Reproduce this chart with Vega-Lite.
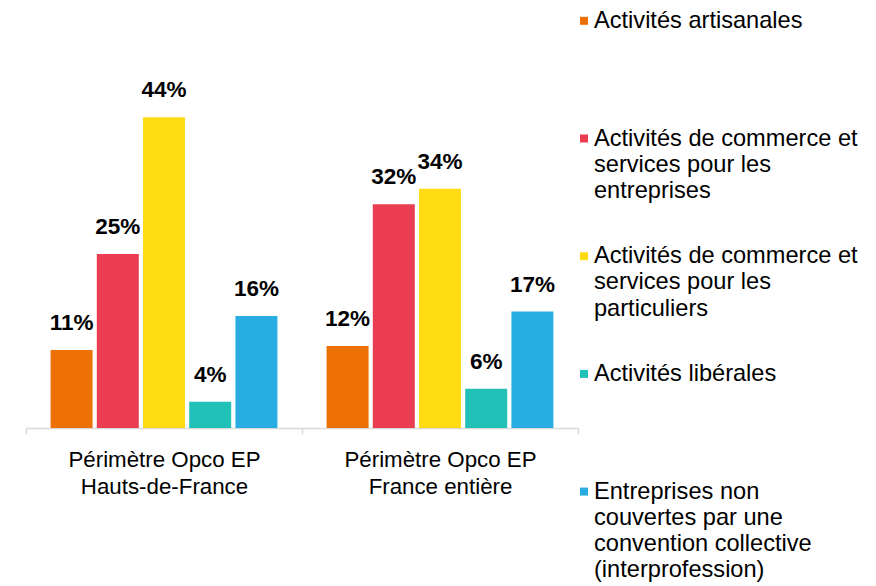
{
  "$schema": "https://vega.github.io/schema/vega-lite/v6.json",
  "width": 552,
  "height": 421,
  "autosize": {"type": "none"},
  "padding": {"left": 26, "top": 7, "right": 298, "bottom": 158},
  "background": "white",
  "config": {
    "view": {"stroke": null},
    "font": "Liberation Sans",
    "style": {"guide-label": {"lineHeight": 26.2}}
  },
  "data": {
    "values": [
      {"groupe": "Périmètre Opco EP\nHauts-de-France", "secteur": "Activités artisanales", "part": 0.111},
      {"groupe": "Périmètre Opco EP\nHauts-de-France", "secteur": "Activités de commerce et\nservices pour les\nentreprises", "part": 0.248},
      {"groupe": "Périmètre Opco EP\nHauts-de-France", "secteur": "Activités de commerce et\nservices pour les\nparticuliers", "part": 0.443},
      {"groupe": "Périmètre Opco EP\nHauts-de-France", "secteur": "Activités libérales", "part": 0.0375},
      {"groupe": "Périmètre Opco EP\nHauts-de-France", "secteur": "Entreprises non\ncouvertes par une\nconvention collective\n(interprofession)", "part": 0.1595},
      {"groupe": "Périmètre Opco EP\nFrance entière", "secteur": "Activités artisanales", "part": 0.117},
      {"groupe": "Périmètre Opco EP\nFrance entière", "secteur": "Activités de commerce et\nservices pour les\nentreprises", "part": 0.319},
      {"groupe": "Périmètre Opco EP\nFrance entière", "secteur": "Activités de commerce et\nservices pour les\nparticuliers", "part": 0.341},
      {"groupe": "Périmètre Opco EP\nFrance entière", "secteur": "Activités libérales", "part": 0.056},
      {"groupe": "Périmètre Opco EP\nFrance entière", "secteur": "Entreprises non\ncouvertes par une\nconvention collective\n(interprofession)", "part": 0.166}
    ]
  },
  "encoding": {
    "x": {
      "field": "groupe",
      "type": "nominal",
      "sort": null,
      "scale": {"paddingInner": 0, "paddingOuter": 0},
      "axis": {
        "title": null,
        "labelAngle": 0,
        "labelExpr": "split(datum.label, '\\n')",
        "labelFontSize": 22.3,
        "labelLineHeight": 27.7,
        "labelColor": "#000000",
        "labelPadding": 14,
        "labelLimit": 400,
        "labelBaseline": "top",
        "tickBand": "extent",
        "tickSize": 6,
        "tickColor": "#d9d9d9",
        "domainColor": "#d9d9d9",
        "domainWidth": 1.5,
        "tickWidth": 1.5
      }
    },
    "xOffset": {
      "field": "secteur",
      "type": "nominal",
      "sort": null,
      "scale": {"paddingInner": 0.091, "paddingOuter": 0.532}
    },
    "y": {
      "field": "part",
      "type": "quantitative",
      "scale": {"domain": [0, 0.6]},
      "axis": null
    }
  },
  "layer": [
    {
      "mark": {"type": "bar"},
      "encoding": {
        "color": {
          "field": "secteur",
          "type": "nominal",
          "sort": null,
          "scale": {
            "domain": [
              "Activités artisanales",
              "Activités de commerce et\nservices pour les\nentreprises",
              "Activités de commerce et\nservices pour les\nparticuliers",
              "Activités libérales",
              "Entreprises non\ncouvertes par une\nconvention collective\n(interprofession)"
            ],
            "range": ["#ED7005", "#EB3D52", "#FFDB14", "#22C1B8", "#27ADE1"]
          },
          "legend": {
            "title": null,
            "orient": "none",
            "legendX": 546.2,
            "legendY": 2,
            "padding": 0,
            "symbolType": "square",
            "symbolSize": 64,
            "symbolStrokeWidth": 0,
            "labelOffset": -1.8,
            "labelFontSize": 23.6,
            "labelColor": "#000000",
            "labelLimit": 400,
            "labelExpr": "split(datum.label, '\\n')",
            "gridAlign": "all",
            "rowPadding": 14.7
          }
        }
      }
    },
    {
      "mark": {"type": "text", "fontWeight": "bold", "fontSize": 22.5, "baseline": "alphabetic", "dy": -20, "color": "#000000"},
      "encoding": {
        "text": {"field": "part", "type": "quantitative", "format": ".0%"}
      }
    }
  ]
}
